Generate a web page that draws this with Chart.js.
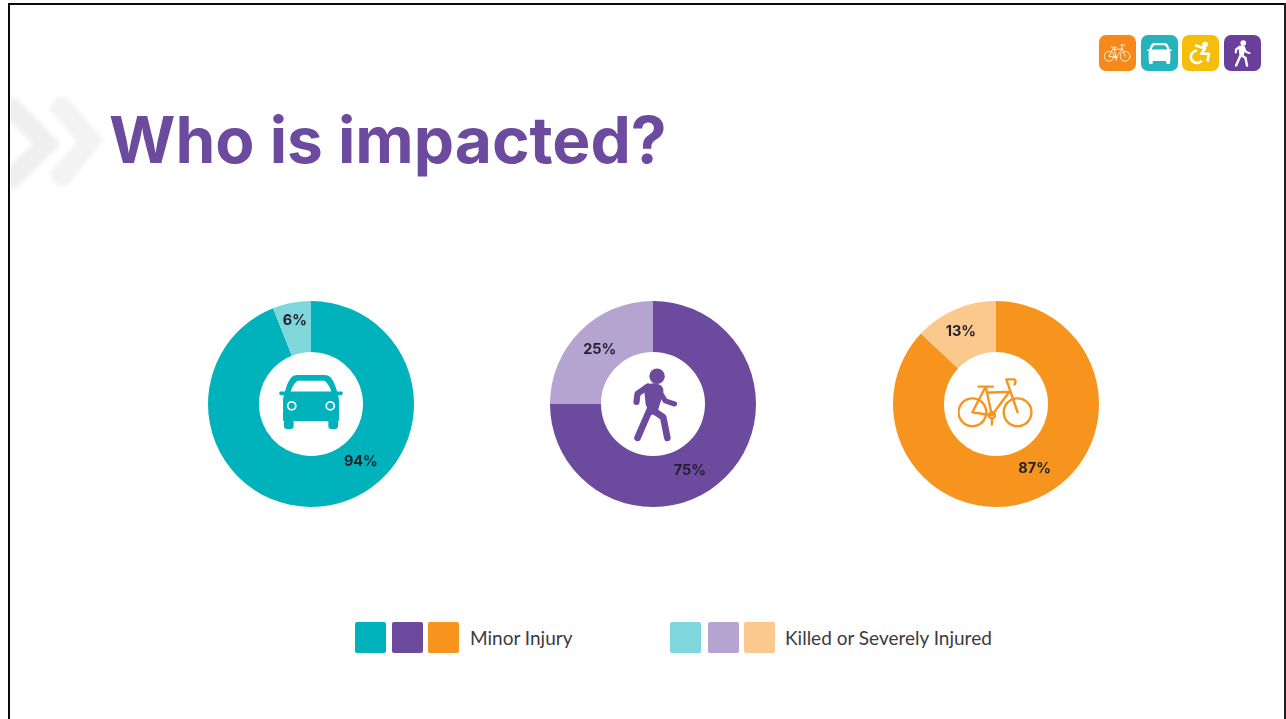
<!DOCTYPE html>
<html>
<head>
<meta charset="utf-8">
<style>
html,body{margin:0;padding:0;background:#fff;}
body{position:relative;width:1286px;height:719px;overflow:hidden;font-family:Lato,sans-serif;}
.frame{position:absolute;left:8px;top:3px;width:1300px;height:800px;border:2.5px solid #0a0a0a;box-sizing:border-box;}
.rightedge{position:absolute;left:1284px;top:3px;width:1.5px;height:716px;background:#222;}
h1{position:absolute;left:109px;top:99px;margin:0;font:700 64px Inter,sans-serif;color:#6c4a9e;white-space:nowrap;letter-spacing:0;line-height:82px;}
.donut{position:absolute;top:289px;width:230px;height:230px;}
.icon{position:absolute;display:block;}
.badge{position:absolute;top:35px;width:37px;height:36px;border-radius:7px;}
.swatch{position:absolute;top:622px;width:31px;height:31px;border-radius:2px;}
.legend-text{position:absolute;top:626px;font:400 19px Lato,sans-serif;color:#3a3a3f;white-space:nowrap;line-height:24px;}
svg.chev{position:absolute;left:10.5px;top:90px;}
</style>
</head>
<body>
<div class="frame"></div>
<div class="rightedge"></div>
<svg class="chev" width="100" height="104" viewBox="0 0 100 104">
  <defs><filter id="soft" x="-10%" y="-10%" width="120%" height="120%"><feGaussianBlur stdDeviation="2.2"/></filter></defs>
  <g filter="url(#soft)">
    <polygon fill="#efefef" points="-4,8 5,8 50,54 5,98 -4,98 -4,78 22,54 -4,28"/>
    <polygon fill="#f3f3f3" points="46,7 56,7 93,50 56,96 46,96 38,84 66,52 38,19"/>
  </g>
</svg>
<h1>Who is impacted?</h1>

<svg width="0" height="0" style="position:absolute">
  <defs>
    <symbol id="car" viewBox="0 0 66 56">
      <path fill="currentColor" d="M13 2 Q15 0 19 0 H47 Q51 0 53 2 Q57 6 60 17 H65 Q66 17 66 19 Q66 21 64 21 H61 Q62 23 62 27 V47 Q62 48 61 48 V53 Q61 56 58 56 H54 Q51 56 51 53 V48 H15 V53 Q15 56 12 56 H8 Q5 56 5 53 V48 Q4 48 4 47 V27 Q4 23 5 21 H2 Q0 21 0 19 Q0 17 1 17 H6 Q9 6 13 2 Z M19 6 Q14 10 12 17 H54 Q52 10 47 6 Z"/>
      <circle cx="13" cy="32" r="4.2" fill="none" stroke="#fff" stroke-width="1.8"/>
      <circle cx="53" cy="32" r="4.2" fill="none" stroke="#fff" stroke-width="1.8"/>
    </symbol>
    <symbol id="walker" viewBox="0 0 44 72">
      <circle cx="24" cy="8" r="7.5" fill="currentColor"/>
      <path fill="none" stroke="currentColor" stroke-linecap="round" stroke-linejoin="round" stroke-width="6" d="M4 33 L5 25 L15 18"/>
      <path fill="none" stroke="currentColor" stroke-linecap="round" stroke-linejoin="round" stroke-width="5" d="M27 24 L32 32 L41 35"/>
      <path fill="currentColor" d="M11 18 Q20 12 28 17 Q32 21 29 28 L24 44 L18 46 L13 36 Z"/>
      <path fill="none" stroke="currentColor" stroke-linecap="round" stroke-linejoin="round" stroke-width="6.5" d="M18 38 L5 68 M20 41 L30 48 L34 68"/>
    </symbol>
    <symbol id="bike" viewBox="0 0 74 48">
      <g fill="none" stroke="currentColor" stroke-width="2.3" stroke-linecap="round" stroke-linejoin="round">
        <circle cx="14" cy="33" r="13.5"/>
        <circle cx="58" cy="33" r="13.5"/>
        <circle cx="33" cy="36" r="3"/>
        <path d="M14 33 L27 8 L33 36 L14 33 M28 14 L50 13 L33 36 M47 1 L58 33 M48 1 H55 Q57 3 55 6 M20 8 H34 M33 40 V45"/>
      </g>
    </symbol>
    <symbol id="chair" viewBox="0 0 30 30">
      <circle cx="21" cy="4" r="3.6" fill="currentColor"/>
      <path fill="none" stroke="currentColor" stroke-width="3.4" stroke-linejoin="round" d="M8 5 L21 9 L16 16 H26 L24 26"/>
      <path fill="none" stroke="currentColor" stroke-width="3.4" d="M10.5 12 A8 8 0 1 0 16.6 25.1"/>
    </symbol>
  </defs>
</svg>

<div id="badges"></div>
<div id="donuts"></div>
<div id="legend"></div>

<script src="https://cdn.jsdelivr.net/npm/chart.js@4/dist/chart.umd.js"></script>
<script>
// Share of injuries by severity for each road-user group
const groups = ['Car', 'Pedestrian', 'Bicycle'];
const minorInjury = [94, 75, 87];
const killedOrSevere = [6, 25, 13];
const severityLabels = ['Minor Injury', 'Killed or Severely Injured'];
const strongColors = ['#00b2bb', '#6c4a9e', '#f7941d'];
const paleColors = ['#7fd6db', '#b5a4cf', '#fbc88e'];

// Placement of the printed percentages, as clock angle (degrees) and distance from the donut centre
const minorLabelSpots = [[139, 76], [151, 76], [149, 75]];
const severeLabelSpots = [[-11, 85], [-44.5, 76], [-26, 80]];

// Layout
const donutLeft = [196, 538, 881];
const iconIds = ['car', 'walker', 'bike'];
const iconBoxes = [[278, 375, 66, 54], [632, 368, 46, 74], [958, 378, 76, 50]];

const valueLabels = {
  id: 'valueLabels',
  afterDatasetsDraw(chart, args, opts) {
    const arc = chart.getDatasetMeta(0).data[0];
    const ctx = chart.ctx;
    ctx.save();
    ctx.font = '700 14.5px Inter, sans-serif';
    ctx.fillStyle = '#231f2e';
    ctx.textAlign = 'center';
    ctx.textBaseline = 'middle';
    opts.spots.forEach((spot, i) => {
      const a = spot[0] * Math.PI / 180;
      ctx.fillText(opts.values[i] + '%', arc.x + spot[1] * Math.sin(a), arc.y - spot[1] * Math.cos(a));
    });
    ctx.restore();
  }
};
Chart.register(valueLabels);

groups.forEach((name, i) => {
  const box = document.createElement('div');
  box.className = 'donut';
  box.style.left = donutLeft[i] + 'px';
  const canvas = document.createElement('canvas');
  canvas.width = 230; canvas.height = 230;
  box.appendChild(canvas);
  document.getElementById('donuts').appendChild(box);

  new Chart(canvas, {
    type: 'doughnut',
    data: {
      labels: severityLabels,
      datasets: [{
        label: name,
        data: [minorInjury[i], killedOrSevere[i]],
        backgroundColor: [strongColors[i], paleColors[i]],
        borderWidth: 0
      }]
    },
    options: {
      responsive: false,
      animation: false,
      cutout: '50.5%',
      layout: { padding: 12 },
      plugins: {
        legend: { display: false },
        tooltip: { enabled: false },
        valueLabels: {
          values: [minorInjury[i], killedOrSevere[i]],
          spots: [minorLabelSpots[i], severeLabelSpots[i]]
        }
      }
    }
  });

  const [x, y, w, h] = iconBoxes[i];
  const icon = document.createElementNS('http://www.w3.org/2000/svg', 'svg');
  icon.setAttribute('class', 'icon');
  icon.setAttribute('style', `left:${x}px;top:${y}px;width:${w}px;height:${h}px;color:${strongColors[i]}`);
  icon.innerHTML = `<use href="#${iconIds[i]}"/>`;
  document.body.appendChild(icon);
});

// Small mode badges in the top corner
const badgeList = [
  ['bike', '#f7891a', 1099, 5, 9, 27, 18],
  ['car', '#25b4bb', 1141, 5, 8, 27, 21],
  ['chair', '#f6be0b', 1182, 7, 6, 23, 24],
  ['walker', '#6a3f9c', 1224, 9, 5, 19, 27]
];
badgeList.forEach(([id, color, left, ox, oy, w, h]) => {
  const b = document.createElement('div');
  b.className = 'badge';
  b.style.left = left + 'px';
  b.style.background = color;
  b.innerHTML = `<svg style="position:absolute;left:${ox}px;top:${oy}px;width:${w}px;height:${h}px;color:#fff"><use href="#${id}"/></svg>`;
  document.getElementById('badges').appendChild(b);
});

// Legend
const legend = document.getElementById('legend');
function addSwatches(colors, lefts) {
  colors.forEach((c, i) => {
    const s = document.createElement('div');
    s.className = 'swatch';
    s.style.left = lefts[i] + 'px';
    s.style.background = c;
    legend.appendChild(s);
  });
}
addSwatches(strongColors, [354.5, 392, 428]);
addSwatches(paleColors, [670, 707.5, 743.5]);
severityLabels.forEach((t, i) => {
  const el = document.createElement('div');
  el.className = 'legend-text';
  el.style.left = [470, 785][i] + 'px';
  el.textContent = t;
  legend.appendChild(el);
});
</script>
</body>
</html>
